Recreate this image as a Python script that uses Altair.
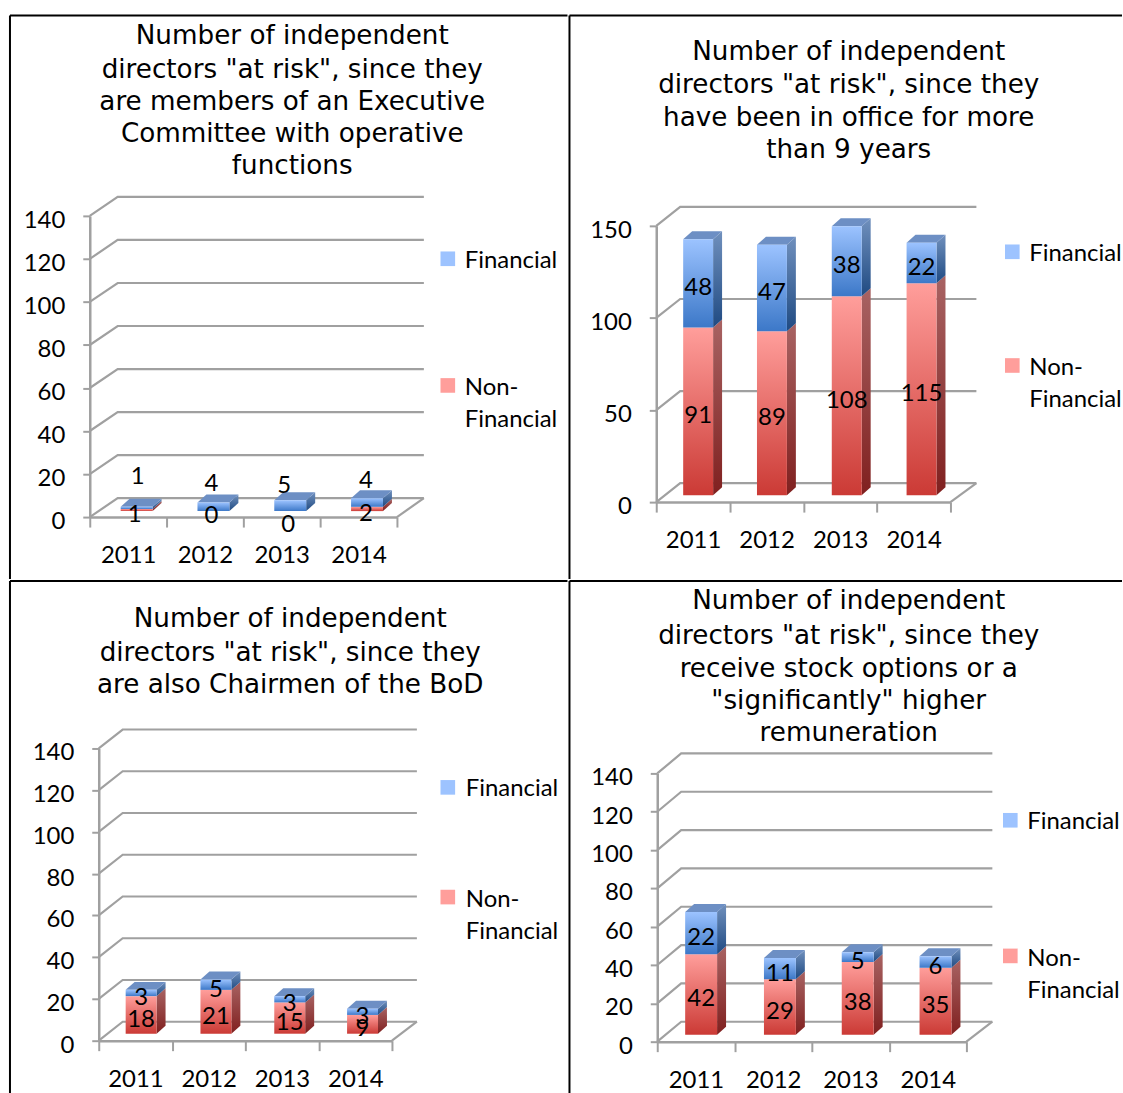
import altair as alt
import pandas as pd

YEARS = ["2011", "2012", "2013", "2014"]

TITLE_A = ["Number of independent", "directors \"at risk\", since they", "are members of an Executive",
           "Committee with operative", "functions"]
FIN_A = [1, 4, 5, 4]
NON_A = [1, 0, 0, 2]

TITLE_B = ["Number of independent", "directors \"at risk\", since they", "have been in office for more",
           "than 9  years"]
FIN_B = [48, 47, 38, 22]
NON_B = [91, 89, 108, 115]

TITLE_C = ["Number of independent", "directors \"at risk\", since they", "are also Chairmen of the BoD"]
FIN_C = [3, 5, 3, 3]
NON_C = [18, 21, 15, 9]

TITLE_D = ["Number of independent", "directors \"at risk\", since they", "receive stock options or a",
           "\"significantly\"  higher", "remuneration"]
FIN_D = [22, 11, 5, 6]
NON_D = [42, 29, 38, 35]

TITLE_FONT = "DejaVu Sans"
LABEL_FONT = "Lato"
LABEL_SIZE = 24
GREY = "#a0a0a0"


def vgrad(top, bottom):
    return {"gradient": "linear", "x1": 0, "y1": 0, "x2": 0, "y2": 1,
            "stops": [{"offset": 0, "color": top}, {"offset": 1, "color": bottom}]}


FRONT = {"fin": vgrad("#9cc3ff", "#3c78c8"), "non": vgrad("#ff9e9b", "#cb3a35")}
SIDE = {"fin": vgrad("#7090bd", "#1f4a82"), "non": vgrad("#a86363", "#80201f")}
TOP_FIN = "#6d8fc4"
SWATCH = {"fin": "#9dc3ff", "non": "#ff9e9b"}


def panel(title, title_x, title_ys, fin, non, ticks, ymax, frame, axis, bars, lift, legend, nudges=None):
    """Draws one pseudo-3D stacked column panel; frame and axis are page pixels."""
    left, top, cell_w, cell_h = frame
    xl, xr, y0, ytop, back_dx, back_dx_right, back_dy = axis
    to_cat = 4 / (xr - xl)
    to_val = ymax / (y0 - ytop)
    depth_x, depth_x_right, depth_y = back_dx * to_cat, back_dx_right * to_cat, back_dy * to_val
    bar_w, bar_dx, bar_dy = bars[1], 9 * to_cat, 8 * to_val
    base = lift * to_val

    xs = alt.Scale(domain=[0, 4], range=[xl - left, xr - left])
    ys = alt.Scale(domain=[0, ymax], range=[y0 - top, ytop - top], nice=False, zero=False)

    # Back wall: each gridline runs from the front axis to the wall and along it.
    wall = []
    for v in ticks:
        wall += [dict(g=v, o=0, x=0, y=v),
                 dict(g=v, o=1, x=depth_x, y=v + depth_y),
                 dict(g=v, o=2, x=4 + depth_x_right, y=v + depth_y)]
    wall += [dict(g=-1, o=0, x=4, y=0), dict(g=-1, o=1, x=4 + depth_x_right, y=depth_y)]

    x_axis = alt.Axis(values=[0, 1, 2, 3, 4], title=None, grid=False,
                      labelExpr="['2011','2012','2013','2014',''][datum.value]",
                      labelOffset=(xr - xl) / 8, labelFont=LABEL_FONT, labelFontSize=LABEL_SIZE,
                      labelColor="black", labelPadding=17, labelOverlap=False, labelFlush=False,
                      labelBound=False, tickSize=10, tickWidth=2, tickColor=GREY,
                      domainColor=GREY, domainWidth=2.5, offset=-(top + cell_h - y0))
    y_axis = alt.Axis(values=ticks, title=None, grid=False, labelFont=LABEL_FONT, labelFontSize=LABEL_SIZE,
                      labelColor="black", labelPadding=18, labelOffset=4.5, labelOverlap=False,
                      labelFlush=False, labelBound=False, tickSize=7, tickWidth=2, tickColor=GREY,
                      domainColor=GREY, domainWidth=2.5, offset=-(xl - left))
    layers = [alt.Chart(pd.DataFrame(wall)).mark_line(color=GREY, strokeWidth=2.2).encode(
        x=alt.X("x:Q", scale=xs, axis=x_axis),
        y=alt.Y("y:Q", scale=ys, axis=y_axis, stack=None),
        detail="g:N", order="o:Q")]

    fronts, sides, tops, labels = {"fin": [], "non": []}, {"fin": [], "non": []}, [], []
    for i, (f, n) in enumerate(zip(fin, non)):
        a = (bars[0][i] - xl) * to_cat
        b = a + bar_w * to_cat
        segments = {"non": (base, base + n, n), "fin": (base + n, base + n + f, f)}
        for key, (lo, hi, val) in segments.items():
            fronts[key].append(dict(a=a, b=b, lo=lo, hi=hi))
            sides[key] += [dict(g=i, x=b, y=hi, y2=lo),
                           dict(g=i, x=b + bar_dx, y=hi + bar_dy, y2=lo + bar_dy)]
            px, py = (nudges or {}).get((key, i), (0, 0))
            labels.append(dict(x=(a + b) / 2 + px * to_cat, y=(lo + hi) / 2 + py * to_val, t=str(val)))
        h = base + n + f
        tops += [dict(g=i, x=a, y=h, y2=h),
                 dict(g=i, x=a + bar_dx, y=h + bar_dy, y2=h),
                 dict(g=i, x=b, y=h + bar_dy, y2=h),
                 dict(g=i, x=b + bar_dx, y=h + bar_dy, y2=h + bar_dy)]

    def side_layer(rows, fill):
        return alt.Chart(pd.DataFrame(rows)).mark_area(fill=fill, interpolate="linear").encode(
            x=alt.X("x:Q", scale=xs, axis=x_axis),
            y=alt.Y("y:Q", scale=ys, axis=y_axis, stack=None),
            y2="y2:Q", detail="g:N")

    def front_layer(rows, fill):
        return alt.Chart(pd.DataFrame(rows)).mark_rect(fill=fill).encode(
            x=alt.X("a:Q", scale=xs, axis=x_axis), x2="b:Q",
            y=alt.Y("hi:Q", scale=ys, axis=y_axis), y2="lo:Q")

    layers += [side_layer(sides["non"], SIDE["non"]), front_layer(fronts["non"], FRONT["non"]),
               side_layer(sides["fin"], SIDE["fin"]), side_layer(tops, TOP_FIN),
               front_layer(fronts["fin"], FRONT["fin"])]

    layers.append(alt.Chart(pd.DataFrame(labels)).mark_text(
        font=LABEL_FONT, fontSize=LABEL_SIZE, color="black", baseline="middle", dy=5).encode(
        x=alt.X("x:Q", scale=xs, axis=x_axis), y=alt.Y("y:Q", scale=ys, axis=y_axis), text="t:N"))

    one = pd.DataFrame({"k": [0]})

    # Cell frame: only the top and left edges are ruled, so cells butt together.
    layers.append(alt.Chart(one).mark_rule(color="black", strokeWidth=2).encode(
        x=alt.value(0), x2=alt.value(cell_w), y=alt.value(0)))
    layers.append(alt.Chart(one).mark_rule(color="black", strokeWidth=2).encode(
        x=alt.value(0), y=alt.value(0), y2=alt.value(cell_h)))

    for line, y in zip(title, title_ys):
        layers.append(alt.Chart(one).mark_text(
            font=TITLE_FONT, fontSize=26.3, color="black", align="center", baseline="middle").encode(
            x=alt.value(title_x - left), y=alt.value(y - top), text=alt.value(line)))

    # Key: one swatch per series with its label to the right.
    sx, tx, fin_y, non_y = legend
    for key, y in (("fin", fin_y), ("non", non_y)):
        layers.append(alt.Chart(one).mark_square(size=215, fill=SWATCH[key], opacity=1, stroke=None).encode(
            x=alt.value(sx - left), y=alt.value(y - top)))
    for text, y in (("Financial", fin_y + 2), ("Non-", non_y + 3), ("Financial", non_y + 35)):
        layers.append(alt.Chart(one).mark_text(
            font=LABEL_FONT, fontSize=LABEL_SIZE, color="black", align="left", baseline="middle").encode(
            x=alt.value(tx - left), y=alt.value(y - top), text=alt.value(text)))

    return alt.layer(*layers).properties(width=cell_w, height=cell_h)


TENS = [0, 20, 40, 60, 80, 100, 120, 140]

a = panel(TITLE_A, 293, [35, 69, 101, 133, 165], FIN_A, NON_A, TENS, 140, (10, 14, 559, 565),
          (90, 398, 517, 215, 28, 27, 19), ([121, 198, 275, 352], 32), 6,
          (449, 466, 258, 385),
          {("fin", 0): (1, 36), ("non", 0): (-2, 0), ("fin", 1): (-2, 28), ("non", 1): (-2, 0),
           ("fin", 2): (-6, 25), ("non", 2): (-2, -9), ("fin", 3): (-1, 27), ("non", 3): (-1, 0)})
b = panel(TITLE_B, 849, [51, 84, 117, 149], FIN_B, NON_B, [0, 50, 100, 150], 150, (569, 14, 554, 565),
          (656, 951, 502, 225, 24, 26, 19), ([683, 757, 832, 907], 30), 7,
          (1013, 1030, 251, 365))
c = panel(TITLE_C, 291, [617, 651, 683], FIN_C, NON_C, TENS, 140, (10, 579, 559, 514),
          (99, 393, 1040, 747, 24, 25, 19), ([126, 201, 275, 348], 31), 7,
          (449, 467, 786, 896))
d = panel(TITLE_D, 849, [599, 634, 667, 699, 732], FIN_D, NON_D, TENS, 140, (569, 579, 554, 514),
          (657, 967, 1041, 772, 24, 26, 20), ([685, 764, 842, 920], 32), 7,
          (1011, 1028, 819, 955))

chart = alt.vconcat(alt.hconcat(a, b, spacing=0), alt.hconcat(c, d, spacing=0), spacing=0).resolve_scale(
    x="independent", y="independent"
).configure_view(stroke=None).properties(
    padding={"left": 9, "top": 13, "right": 0, "bottom": 0}, background="white")

chart.save("out.html", embed_options={"renderer": "svg", "actions": False})
